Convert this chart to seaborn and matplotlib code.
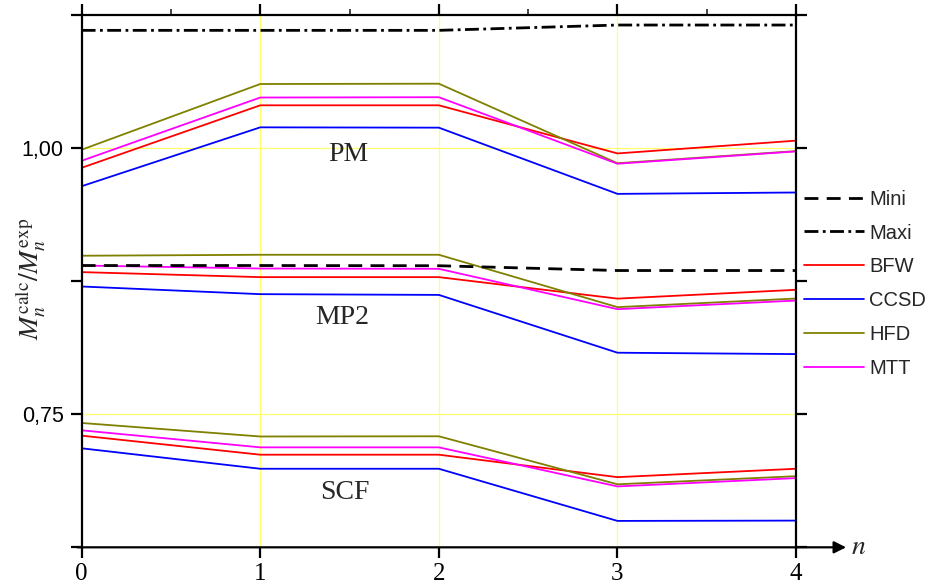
import numpy as np
import pandas as pd
import matplotlib
matplotlib.use("Agg")
import matplotlib.pyplot as plt
from matplotlib.lines import Line2D
import seaborn as sns

# ---------------- data ----------------
n_values = [0, 1, 2, 3, 4]
methods = ["BFW", "CCSD", "HFD", "MTT"]

pm_bfw = [0.9815, 1.0402, 1.0402, 0.9950, 1.0070]
pm_ccsd = [0.9642, 1.0195, 1.0192, 0.9570, 0.9583]
pm_hfd = [0.9985, 1.0602, 1.0605, 0.9858, 0.9972]
pm_mtt = [0.9881, 1.0475, 1.0478, 0.9853, 0.9969]

mp2_bfw = [0.8835, 0.8788, 0.8788, 0.8586, 0.8669]
mp2_ccsd = [0.8700, 0.8628, 0.8621, 0.8078, 0.8065]
mp2_hfd = [0.8989, 0.8998, 0.8998, 0.8506, 0.8587]
mp2_mtt = [0.8897, 0.8869, 0.8866, 0.8487, 0.8568]

scf_bfw = [0.7299, 0.7120, 0.7120, 0.6909, 0.6988]
scf_ccsd = [0.7180, 0.6988, 0.6988, 0.6498, 0.6501]
scf_hfd = [0.7418, 0.7291, 0.7293, 0.6842, 0.6918]
scf_mtt = [0.7349, 0.7189, 0.7189, 0.6822, 0.6900]

mini = [0.8897, 0.8897, 0.8895, 0.8850, 0.8850]
maxi = [1.1106, 1.1106, 1.1106, 1.1156, 1.1156]

group_labels = ["PM", "MP2", "SCF"]
y_ticks = [0.625, 0.75, 0.875, 1.0, 1.125]
y_ticklabels = ["", "0,75", "", "1,00", ""]
x_ticklabels = ["0", "1", "2", "3", "4"]

series = {
    "PM": {"BFW": pm_bfw, "CCSD": pm_ccsd, "HFD": pm_hfd, "MTT": pm_mtt},
    "MP2": {"BFW": mp2_bfw, "CCSD": mp2_ccsd, "HFD": mp2_hfd, "MTT": mp2_mtt},
    "SCF": {"BFW": scf_bfw, "CCSD": scf_ccsd, "HFD": scf_hfd, "MTT": scf_mtt},
}

rows = []
for g, d in series.items():
    for m, vals in d.items():
        for n, v in zip(n_values, vals):
            rows.append({"n": n, "value": v, "method": m, "group": g})
df = pd.DataFrame(rows)

bounds = pd.DataFrame(
    [{"n": n, "value": v, "kind": "Mini"} for n, v in zip(n_values, mini)]
    + [{"n": n, "value": v, "kind": "Maxi"} for n, v in zip(n_values, maxi)]
)

# ---------------- style ----------------
sns.set_theme(style="white")
plt.rcParams["font.family"] = ["Liberation Sans", "DejaVu Sans"]
plt.rcParams["mathtext.fontset"] = "stix"

palette = {"BFW": "#ff0000", "CCSD": "#0000ff", "HFD": "#808000", "MTT": "#ff00ff"}
mini_ls = (0, (5, 3))
maxi_ls = (0, (5, 1.6, 1, 1.6))

fig = plt.figure(figsize=(9.30, 5.87), dpi=100)
ax = fig.add_axes([0.0878, 0.0676, 0.7682, 0.9068])

# grid (yellow)
for xv in [1, 2, 3]:
    ax.axvline(xv, color="#ffff70", lw=0.9, zorder=0)
for yv in [0.75, 1.0]:
    ax.axhline(yv, color="#ffff70", lw=0.9, zorder=0)

sns.lineplot(data=df, x="n", y="value", hue="method", units="group",
             estimator=None, palette=palette, lw=1.3, legend=False, ax=ax,
             sort=False)

sns.lineplot(data=bounds[bounds.kind == "Mini"], x="n", y="value", color="black",
             lw=2.0, ax=ax, legend=False, linestyle=mini_ls)
sns.lineplot(data=bounds[bounds.kind == "Maxi"], x="n", y="value", color="black",
             lw=2.0, ax=ax, legend=False, linestyle=maxi_ls)

ax.set_xlim(0, 4)
ax.set_ylim(0.625, 1.125)
ax.set_xlabel("")
ax.set_ylabel("")

# spines
for s in ["left", "right", "top"]:
    ax.spines[s].set_visible(True)
    ax.spines[s].set_color("black")
    ax.spines[s].set_linewidth(1.6)
ax.spines["bottom"].set_visible(False)

# bottom axis with arrow
ax.annotate("", xy=(1.07, 0), xytext=(-0.006, 0), xycoords="axes fraction",
            textcoords="axes fraction",
            arrowprops=dict(arrowstyle="-|>", lw=1.6, color="black",
                            mutation_scale=18, shrinkA=0, shrinkB=0),
            annotation_clip=False)
ax.text(1.087, 0.0, "$n$", transform=ax.transAxes, fontsize=20,
        ha="center", va="center")

ax.set_xticks(n_values)
ax.set_xticklabels(x_ticklabels, fontsize=18, family=["Liberation Serif", "DejaVu Serif"])
ax.set_yticks(y_ticks)
ax.set_yticklabels(y_ticklabels, fontsize=15.5)
ax.set_xticks([0.5, 1.5, 2.5, 3.5], minor=True)

ax.tick_params(axis="x", which="major", direction="out", length=8, width=1.6,
               bottom=True, top=True, pad=3, colors="black")
ax.tick_params(axis="x", which="minor", direction="out", length=4, width=1.2,
               bottom=False, top=True)
ax.tick_params(axis="y", which="major", direction="out", length=8, width=1.6,
               left=True, right=True, pad=5, colors="black")

# group labels
ax.text(1.491, 0.994, group_labels[0], fontsize=20, ha="center", va="center",
        family=["Liberation Serif", "DejaVu Serif"])
ax.text(1.457, 0.8405, group_labels[1], fontsize=20, ha="center", va="center",
        family=["Liberation Serif", "DejaVu Serif"])
ax.text(1.474, 0.6765, group_labels[2], fontsize=20, ha="center", va="center",
        family=["Liberation Serif", "DejaVu Serif"])

# y label
ax.text(-0.071, 0.505, r"$M_n^{\mathrm{calc}}/M_n^{\mathrm{exp}}$", transform=ax.transAxes,
        rotation=90, fontsize=20, ha="center", va="center")

# legend
handles = [
    Line2D([], [], color="black", lw=2.0, linestyle=mini_ls),
    Line2D([], [], color="black", lw=2.0, linestyle=maxi_ls),
] + [Line2D([], [], color=palette[m], lw=1.3) for m in methods]
labels = ["Mini", "Maxi"] + methods
fig.legend(handles, labels, loc="upper left", bbox_to_anchor=(0.864, 0.677),
           frameon=False, fontsize=14.5, handlelength=3.0, handletextpad=0.25,
           labelspacing=0.74, borderpad=0, borderaxespad=0)

fig.savefig("out.png", dpi=100)
